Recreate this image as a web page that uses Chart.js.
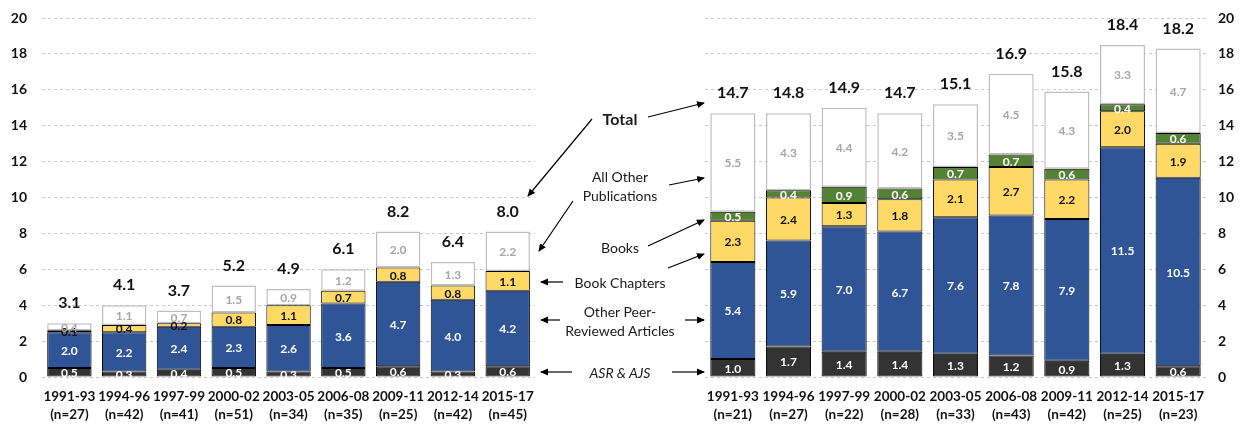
<!DOCTYPE html>
<html>
<head>
<meta charset="utf-8">
<script src="https://cdn.jsdelivr.net/npm/chart.js@4.4.1/dist/chart.umd.min.js"></script>
<style>
  body { margin: 0; background: #fff; }
  #wrap { position: relative; width: 1241px; height: 428px; font-family: Lato, "Open Sans", sans-serif; }
  #left { position: absolute; left: 0; top: 0; }
  #right { position: absolute; left: 690px; top: 0; }
  #arrows { position: absolute; left: 0; top: 0; pointer-events: none; }
  .note { position: absolute; transform: translate(-50%, -50%); font-size: 14px; color: #1a1a1a; white-space: nowrap; text-align: center; line-height: 19px; }
</style>
</head>
<body>
<div id="wrap">
  <canvas id="left" width="545" height="428"></canvas>
  <canvas id="right" width="551" height="428"></canvas>
  <svg id="arrows" width="1241" height="428">
    <defs>
      <marker id="head" markerWidth="8" markerHeight="8" refX="7" refY="4" orient="auto" markerUnits="userSpaceOnUse">
        <path d="M0,0.5 L8,4 L0,7.5 z" fill="#000"/>
      </marker>
    </defs>
    <g stroke="#000" stroke-width="1.2" marker-end="url(#head)">
      <line x1="592" y1="119" x2="528" y2="196"/>
      <line x1="648" y1="117" x2="704" y2="103"/>
      <line x1="573" y1="201" x2="539" y2="251"/>
      <line x1="669" y1="185" x2="704" y2="178"/>
      <line x1="648" y1="246" x2="704" y2="220"/>
      <line x1="563" y1="282" x2="541" y2="282"/>
      <line x1="668" y1="268" x2="704" y2="254"/>
      <line x1="560" y1="320" x2="541" y2="320"/>
      <line x1="685" y1="320" x2="704" y2="320"/>
      <line x1="572" y1="372" x2="541" y2="372"/>
      <line x1="672" y1="372" x2="704" y2="372"/>
    </g>
  </svg>
  <div class="note" style="left:620px;top:118px;font-weight:bold;font-size:16px;">Total</div>
  <div class="note" style="left:620px;top:186px;">All Other<br>Publications</div>
  <div class="note" style="left:620px;top:247px;">Books</div>
  <div class="note" style="left:620px;top:282px;">Book Chapters</div>
  <div class="note" style="left:620px;top:321px;">Other Peer-<br>Reviewed Articles</div>
  <div class="note" style="left:620px;top:372px;font-style:italic;">ASR &amp; AJS</div>
</div>
<script>
const periods = ['1991-93', '1994-96', '1997-99', '2000-02', '2003-05', '2006-08', '2009-11', '2012-14', '2015-17'];

// left panel
const leftN = [27, 42, 41, 51, 34, 35, 25, 42, 45];
const leftAsr = [0.5, 0.3, 0.4, 0.5, 0.3, 0.5, 0.6, 0.3, 0.6];
const leftOtherPeer = [2.0, 2.2, 2.4, 2.3, 2.6, 3.6, 4.7, 4.0, 4.2];
const leftChapters = [0.1, 0.4, 0.2, 0.8, 1.1, 0.7, 0.8, 0.8, 1.1];
const leftAllOther = [0.4, 1.1, 0.7, 1.5, 0.9, 1.2, 2.0, 1.3, 2.2];
const leftTotal = [3.1, 4.1, 3.7, 5.2, 4.9, 6.1, 8.2, 6.4, 8.0];

// right panel
const rightN = [21, 27, 22, 28, 33, 43, 42, 25, 23];
const rightAsr = [1.0, 1.7, 1.4, 1.4, 1.3, 1.2, 0.9, 1.3, 0.6];
const rightOtherPeer = [5.4, 5.9, 7.0, 6.7, 7.6, 7.8, 7.9, 11.5, 10.5];
const rightChapters = [2.3, 2.4, 1.3, 1.8, 2.1, 2.7, 2.2, 2.0, 1.9];
const rightBooks = [0.5, 0.4, 0.9, 0.6, 0.7, 0.7, 0.6, 0.4, 0.6];
const rightAllOther = [5.5, 4.3, 4.4, 4.2, 3.5, 4.5, 4.3, 3.3, 4.7];
const rightTotal = [14.7, 14.8, 14.9, 14.7, 15.1, 16.9, 15.8, 18.4, 18.2];

const yTicks = [0, 2, 4, 6, 8, 10, 12, 14, 16, 18, 20];

const FONT = 'Lato, "Open Sans", sans-serif';

// draws the value inside each segment and the total above each stack
const segLabels = {
    id: 'segLabels',
    afterDatasetsDraw(chart, args, opts) {
        const ctx = chart.ctx;
        ctx.save();
        ctx.textAlign = 'center';
        ctx.textBaseline = 'middle';
        ctx.font = 'bold 12px ' + FONT;
        chart.data.datasets.forEach((ds, i) => {
            const meta = chart.getDatasetMeta(i);
            meta.data.forEach((bar, j) => {
                ctx.fillStyle = ds.labelColor;
                ctx.fillText(ds.data[j].toFixed(1), bar.x, (bar.y + bar.base) / 2 + 1);
            });
        });
        const top = chart.getDatasetMeta(chart.data.datasets.length - 1);
        ctx.font = 'bold 16px ' + FONT;
        ctx.fillStyle = '#111';
        top.data.forEach((bar, j) => {
            ctx.fillText(opts.totals[j].toFixed(1), bar.x, bar.y - 20);
        });
        ctx.restore();
    }
};

const seg = (label, data, bg, border, labelColor, bw) => ({
    label: label,
    data: data,
    backgroundColor: bg,
    borderColor: border,
    borderWidth: bw || 1,
    borderSkipped: false,
    labelColor: labelColor,
    categoryPercentage: 1,
    barPercentage: 0.81
});

const makeChart = (id, datasets, n, totals, side) => {
    const labels = periods.map((p, i) => [p, '(n=' + n[i] + ')']);
    return new Chart(document.getElementById(id), {
        type: 'bar',
        data: { labels: labels, datasets: datasets },
        plugins: [segLabels],
        options: {
            responsive: false,
            animation: false,
            layout: side === 'left'
                ? { padding: { top: 18, right: 5, bottom: 5, left: 0 } }
                : { padding: { top: 18, right: 0, bottom: 5, left: 15 } },
            plugins: {
                legend: { display: false },
                tooltip: { enabled: false },
                segLabels: { totals: totals }
            },
            scales: {
                x: {
                    stacked: true,
                    grid: { display: false, drawTicks: false },
                    border: { display: false },
                    ticks: {
                        color: '#111',
                        font: { family: FONT, size: 13.5, weight: 'bold', lineHeight: 1.33 },
                        padding: 11,
                        maxRotation: 0,
                        autoSkip: false
                    },
                    afterFit: s => { s.height = 46; }
                },
                y: {
                    stacked: true,
                    position: side,
                    min: 0,
                    max: 20,
                    afterBuildTicks: s => { s.ticks = yTicks.map(v => ({ value: v })); },
                    grid: { color: '#c8c8c8', lineWidth: 1, drawTicks: false },
                    border: { display: false, dash: [3, 3] },
                    ticks: {
                        color: '#111',
                        font: { family: FONT, size: 14, weight: 'bold' },
                        padding: side === 'left' ? 15 : 12
                    },
                    afterFit: s => {
                        s.width = side === 'left' ? 42 : 35;
                        s.paddingTop = 0;
                        s.paddingBottom = 0;
                    }
                }
            }
        }
    });
};

makeChart('left', [
    seg('ASR & AJS', leftAsr, '#333333', '#000', '#fff'),
    seg('Other Peer-Reviewed Articles', leftOtherPeer, '#2F5597', '#000', '#fff'),
    seg('Book Chapters', leftChapters, '#FFD966', '#000', '#111'),
    seg('All Other Publications', leftAllOther, '#ffffff', '#bfbfbf', '#a6a6a6', 1.5)
], leftN, leftTotal, 'left');

makeChart('right', [
    seg('ASR & AJS', rightAsr, '#333333', '#000', '#fff'),
    seg('Other Peer-Reviewed Articles', rightOtherPeer, '#2F5597', '#000', '#fff'),
    seg('Book Chapters', rightChapters, '#FFD966', '#000', '#111'),
    seg('Books', rightBooks, '#548235', '#000', '#fff'),
    seg('All Other Publications', rightAllOther, '#ffffff', '#bfbfbf', '#a6a6a6', 1.5)
], rightN, rightTotal, 'right');
</script>
</body>
</html>
